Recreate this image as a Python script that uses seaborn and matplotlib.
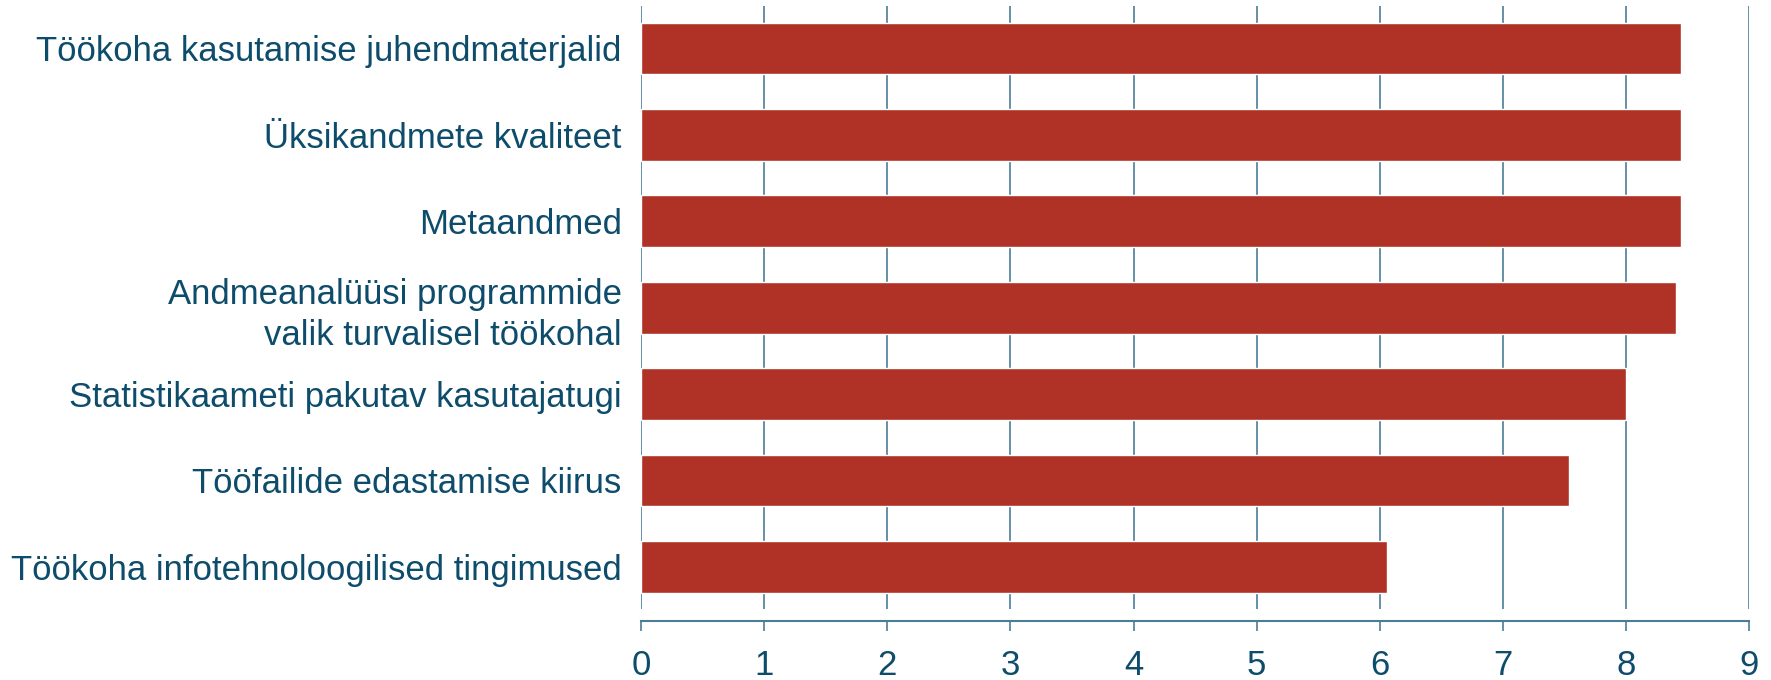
import matplotlib
matplotlib.use("Agg")
import matplotlib.pyplot as plt
import seaborn as sns
import pandas as pd

categories = [
    "Töökoha kasutamise juhendmaterjalid",
    "Üksikandmete kvaliteet",
    "Metaandmed",
    "Andmeanalüüsi programmide\nvalik turvalisel töökohal",
    "Statistikaameti pakutav kasutajatugi",
    "Tööfailide edastamise kiirus",
    "Töökoha infotehnoloogilised tingimused",
]
values = [8.45, 8.45, 8.45, 8.41, 8.0, 7.54, 6.06]
xticks = [0, 1, 2, 3, 4, 5, 6, 7, 8, 9]

sns.set_theme(style="white")
plt.rcParams["font.family"] = ["Liberation Sans", "DejaVu Sans"]

text_color = "#0d4c6b"
grid_color = "#4a7d96"
bar_color = "#b03227"

df = pd.DataFrame({"cat": categories, "val": values})

fig = plt.figure(figsize=(17.71, 6.8), dpi=100)
ax = fig.add_axes([0.362, 0.087, 0.6256, 0.904])

sns.barplot(data=df, y="cat", x="val", orient="h", color=bar_color,
            width=0.6, saturation=1, ax=ax, zorder=3)

ax.set_xlim(0, 9)
ax.set_ylim(6.625, -0.49)
ax.set_xticks(xticks)
ax.set_xticklabels([str(t) for t in xticks])
ax.vlines(xticks, 0.02, 1.0, transform=ax.get_xaxis_transform(),
          color=grid_color, linewidth=1.2, zorder=1)

for s in ["left", "top", "right"]:
    ax.spines[s].set_visible(False)
ax.spines["bottom"].set_color(grid_color)
ax.spines["bottom"].set_linewidth(1.5)

ax.tick_params(axis="x", which="major", bottom=True, length=7, width=1.2,
               color=grid_color, labelsize=25, labelcolor=text_color, pad=13,
               direction="out")
ax.tick_params(axis="y", length=0, labelsize=25, labelcolor=text_color, pad=14)
for lab in ax.get_yticklabels():
    lab.set_horizontalalignment("right")
    lab.set_multialignment("right")
    lab.set_linespacing(1.32)

ax.set_xlabel("")
ax.set_ylabel("")

fig.savefig("out.png", dpi=100)
